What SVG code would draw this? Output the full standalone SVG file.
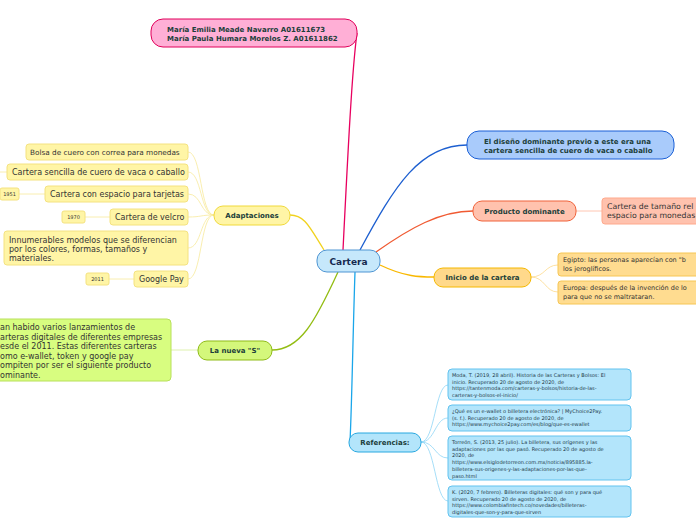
<svg xmlns="http://www.w3.org/2000/svg" width="696" height="520" viewBox="0 0 696 520">
<style>
text{font-family:"DejaVu Sans","Verdana",sans-serif;}
.b{font-weight:bold;fill:#1c3e3a;font-size:7px;}
.c{fill:#333;font-size:8px;}
.r{fill:#1e3a48;font-size:5px;}
.y{fill:#333;font-size:5px;}
.e{fill:none;stroke-width:1.3;}
.f{fill:none;stroke-width:0.8;}
</style>
<rect width="696" height="520" fill="#fff"/>
<g id="connectors">
<path class="e" stroke="#e8005f" d="M343,250 C348,150 352,70 357,33"/>
<path class="e" stroke="#1d5fd0" d="M360,250 C395,185 420,145 467,145"/>
<path class="e" stroke="#f05a32" d="M376,252 C410,228 440,211 473,211"/>
<path class="e" stroke="#f9b800" d="M380,265 C405,277 420,277 434,277"/>
<path class="e" stroke="#f1d21e" d="M324,250 C310,228 305,215 290,215"/>
<path class="e" stroke="#93bd13" d="M338,272 C315,322 300,350 272,350"/>
<path class="e" stroke="#1aa6ea" d="M355,272 C353,330 352,400 350,442"/>
<path class="f" stroke="#ffb79f" d="M576,211 L602,211"/>
<path class="f" stroke="#fcd98a" d="M531,277 C545,277 545,265 558,265 M531,277 C545,277 545,292 558,292"/>
<path class="f" stroke="#8fd6f6" d="M421,442 C435,442 435,385 448,385 M421,442 C435,442 435,418 448,418 M421,442 C435,442 435,458 448,458 M421,442 C435,442 435,501 448,501"/>
<path class="f" stroke="#f7ea9c" d="M214,215 C200,215 202,152 188,152 M214,215 C200,215 202,172 188,172 M214,215 C200,215 202,194 188,194 M214,215 C200,215 202,217 188,217 M214,215 C200,215 202,248 188,248 M214,215 C200,215 202,279 188,279"/>
<path class="f" stroke="#f7ea9c" d="M0,172 L7,172 M19,194 L45,194 M85,217 L110,217 M109,279 L134,279"/>
<path class="f" stroke="#d6ee9a" d="M171,350 L198,350"/>
</g>
<g id="cartera">
<rect x="317" y="250" width="63" height="22" rx="10" fill="#c6e8fb" stroke="#4e95d3"/>
<text x="348.5" y="264.5" text-anchor="middle" style="font-weight:bold;font-size:9px;fill:#16294f">Cartera</text>
</g>
<g id="autores">
<rect x="151" y="19" width="206" height="28" rx="12" fill="#ffafd6" stroke="#e0005a"/>
<text class="b" x="167" y="32">María Emilia Meade Navarro A01611673</text>
<text class="b" x="167" y="41">María Paula Humara Morelos Z. A01611862</text>
</g>
<g id="diseno">
<rect x="467" y="131" width="207" height="28" rx="12" fill="#a9cbfb" stroke="#1a5fd6"/>
<text class="b" x="484" y="144">El diseño dominante previo a este era una</text>
<text class="b" x="484" y="153">cartera sencilla de cuero de vaca o caballo</text>
</g>
<g id="producto">
<rect x="473" y="201" width="103" height="20" rx="9" fill="#ffc2ae" stroke="#f0623a"/>
<text class="b" x="524.5" y="213.5" text-anchor="middle">Producto dominante</text>
</g>
<g id="tamano">
<rect x="602" y="198" width="100" height="26" rx="3" fill="#ffc2ae" stroke="#ffa98c"/>
<text x="607" y="209" style="font-size:7.8px;fill:#333">Cartera de tamaño rel</text>
<text x="607" y="218" style="font-size:7.8px;fill:#333">espacio para monedas</text>
</g>
<g id="inicio">
<rect x="434" y="268" width="97" height="19" rx="9" fill="#ffd98b" stroke="#f5b800"/>
<text class="b" x="482.5" y="280" text-anchor="middle">Inicio de la cartera</text>
</g>
<g id="egipto">
<rect x="558" y="253" width="145" height="23" rx="3" fill="#ffdc90" stroke="#f6c654"/>
<text x="563" y="262" style="font-size:6.5px;fill:#333">Egipto: las personas aparecían con "b</text>
<text x="563" y="271" style="font-size:6.5px;fill:#333">los jeroglíficos.</text>
</g>
<g id="europa">
<rect x="558" y="281" width="145" height="23" rx="3" fill="#ffdc90" stroke="#f6c654"/>
<text x="563" y="290" style="font-size:6.5px;fill:#333">Europa: después de la invención de lo</text>
<text x="563" y="299" style="font-size:6.5px;fill:#333">para que no se maltrataran.</text>
</g>
<g id="referencias">
<rect x="349" y="433" width="72" height="19" rx="9" fill="#b3e5fb" stroke="#29a8e0"/>
<text class="b" x="385" y="445" text-anchor="middle">Referencias:</text>
</g>
<g id="ref1">
<rect x="448" y="369" width="183" height="31" rx="4" fill="#b3e5fb" stroke="#62c3ef"/>
<text class="r" x="452" y="377">Moda, T. (2019, 28 abril). Historia de las Carteras y Bolsos: El</text>
<text class="r" x="452" y="383.7">inicio. Recuperado 20 de agosto de 2020, de</text>
<text class="r" x="452" y="390.4">https://tantenmoda.com/carteras-y-bolsos/historia-de-las-</text>
<text class="r" x="452" y="397.1">carteras-y-bolsos-el-inicio/</text>
</g>
<g id="ref2">
<rect x="448" y="405" width="183" height="26" rx="4" fill="#b3e5fb" stroke="#62c3ef"/>
<text class="r" x="452" y="413">¿Qué es un e-wallet o billetera electrónica? | MyChoice2Pay.</text>
<text class="r" x="452" y="419.7">(s. f.). Recuperado 20 de agosto de 2020, de</text>
<text class="r" x="452" y="426.4">https://www.mychoice2pay.com/es/blog/que-es-ewallet</text>
</g>
<g id="ref3">
<rect x="448" y="436" width="183" height="44" rx="4" fill="#b3e5fb" stroke="#62c3ef"/>
<text class="r" x="452" y="444">Torreón, S. (2013, 25 julio). La billetera, sus orígenes y las</text>
<text class="r" x="452" y="450.7">adaptaciones por las que pasó. Recuperado 20 de agosto de</text>
<text class="r" x="452" y="457.4">2020, de</text>
<text class="r" x="452" y="464.1">https://www.elsiglodetorreon.com.mx/noticia/895885.la-</text>
<text class="r" x="452" y="470.8">billetera-sus-origenes-y-las-adaptaciones-por-las-que-</text>
<text class="r" x="452" y="477.5">paso.html</text>
</g>
<g id="ref4">
<rect x="448" y="486" width="183" height="31" rx="4" fill="#b3e5fb" stroke="#62c3ef"/>
<text class="r" x="452" y="494">K. (2020, 7 febrero). Billeteras digitales: qué son y para qué</text>
<text class="r" x="452" y="500.7">sirven. Recuperado 20 de agosto de 2020, de</text>
<text class="r" x="452" y="507.4">https://www.colombiafintech.co/novedades/billeteras-</text>
<text class="r" x="452" y="514.1">digitales-que-son-y-para-que-sirven</text>
</g>
<g id="adaptaciones">
<rect x="214" y="206" width="76" height="19" rx="9" fill="#fff5a6" stroke="#f0d93a"/>
<text class="b" x="252" y="218" text-anchor="middle">Adaptaciones</text>
</g>
<g id="bolsa">
<rect x="26" y="144" width="162" height="16" rx="3" fill="#fff5a6" stroke="#f4e280"/>
<text x="30" y="154.5" style="font-size:7.3px;fill:#333">Bolsa de cuero con correa para monedas</text>
</g>
<g id="sencilla">
<rect x="7" y="164" width="181" height="16" rx="3" fill="#fff5a6" stroke="#f4e280"/>
<text class="c" x="12" y="175">Cartera sencilla de cuero de vaca o caballo</text>
</g>
<g id="tarjetas">
<rect x="45" y="186" width="143" height="16" rx="3" fill="#fff5a6" stroke="#f4e280"/>
<text class="c" x="50" y="197">Cartera con espacio para tarjetas</text>
</g>
<g id="y1951">
<rect x="0" y="188" width="19" height="12" rx="2" fill="#fff5a6" stroke="#f4e280"/>
<text class="y" x="9.5" y="196" text-anchor="middle">1951</text>
</g>
<g id="velcro">
<rect x="110" y="209" width="78" height="16" rx="3" fill="#fff5a6" stroke="#f4e280"/>
<text class="c" x="115" y="220">Cartera de velcro</text>
</g>
<g id="y1970">
<rect x="62" y="211" width="23" height="12" rx="2" fill="#fff5a6" stroke="#f4e280"/>
<text class="y" x="73.5" y="219" text-anchor="middle">1970</text>
</g>
<g id="modelos">
<rect x="4" y="231" width="184" height="34" rx="3" fill="#fff5a6" stroke="#f4e280"/>
<text class="c" x="9" y="243">Innumerables modelos que se diferencian</text>
<text class="c" x="9" y="252">por los colores, formas, tamaños y</text>
<text class="c" x="9" y="261">materiales.</text>
</g>
<g id="google">
<rect x="134" y="271" width="54" height="16" rx="3" fill="#fff5a6" stroke="#f4e280"/>
<text class="c" x="139" y="282">Google Pay</text>
</g>
<g id="y2011">
<rect x="86" y="273" width="23" height="12" rx="2" fill="#fff5a6" stroke="#f4e280"/>
<text class="y" x="97.5" y="281" text-anchor="middle">2011</text>
</g>
<g id="nueva">
<rect x="198" y="341" width="74" height="19" rx="9" fill="#d4f77b" stroke="#8fbb18"/>
<text class="b" x="235" y="353" text-anchor="middle">La nueva "S"</text>
</g>
<g id="lanzamientos">
<rect x="-10" y="319" width="181" height="62" rx="4" fill="#d8fd80" stroke="#b8e05a"/>
<text class="c" x="0" y="330">an habido varios lanzamientos de</text>
<text class="c" x="0" y="339.5">arteras digitales de diferentes empresas</text>
<text class="c" x="0" y="349">esde el 2011. Estas diferentes carteras</text>
<text class="c" x="0" y="358.5">omo e-wallet, token y google pay</text>
<text class="c" x="0" y="368">ompiten por ser el siguiente producto</text>
<text class="c" x="0" y="377.5">ominante.</text>
</g>
</svg>
